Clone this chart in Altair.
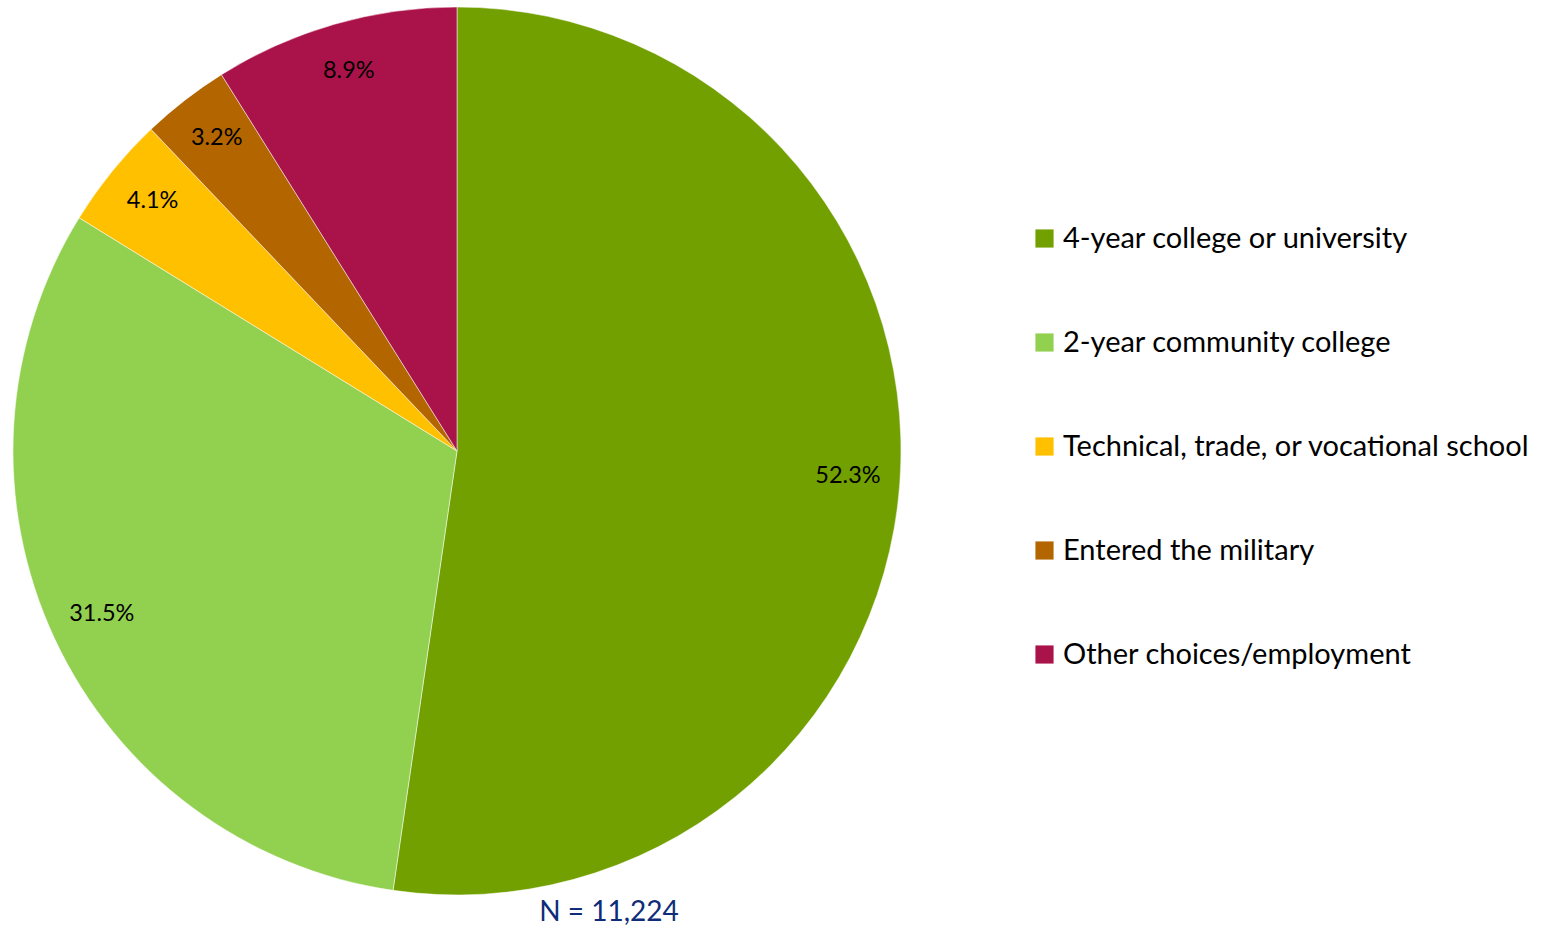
import altair as alt
import pandas as pd

categories = [
    "4-year college or university",
    "2-year community college",
    "Technical, trade, or vocational school",
    "Entered the military",
    "Other choices/employment",
]
values = [52.3, 31.5, 4.1, 3.2, 8.9]
labels = ["52.3%", "31.5%", "4.1%", "3.2%", "8.9%"]
colors = ["#71A000", "#92D050", "#FFC000", "#B36600", "#AA1349"]
note = "N = 11,224"

df = pd.DataFrame({
    "category": categories,
    "value": values,
    "label": labels,
    "order": list(range(len(categories))),
})

cx, cy = 457, 451

base = alt.Chart(df).encode(
    theta=alt.Theta("value:Q", stack=True),
    order=alt.Order("order:Q"),
)

arcs = base.mark_arc(outerRadius=444, stroke="#ffffff", strokeWidth=0.5).encode(
    color=alt.Color(
        "category:N",
        scale=alt.Scale(domain=categories, range=colors),
        sort=categories,
        legend=alt.Legend(
            title=None,
            orient="none",
            legendX=1030,
            legendY=224,
            symbolType="square",
            symbolSize=330,
            symbolStrokeWidth=0,
            labelFont="Lato",
            labelFontSize=29,
            labelColor="#000000",
            labelOffset=4,
            rowPadding=74,
            labelLimit=700,
        ),
    ),
    x=alt.value(cx),
    y=alt.value(cy),
)

text = base.mark_text(
    radius=392, font="Lato", fontSize=23.5, color="#000000", baseline="middle", align="center"
).encode(
    text="label:N",
    x=alt.value(cx),
    y=alt.value(cy - 3),
)

ndf = pd.DataFrame({"t": [note]})
ntext = alt.Chart(ndf).mark_text(
    font="Lato", fontSize=28, color="#0E2C78", baseline="middle", align="center"
).encode(text="t:N", x=alt.value(609), y=alt.value(913))

chart = alt.layer(arcs, text, ntext).properties(
    width=1554, height=927, autosize=alt.AutoSizeParams(type="none"), padding=0
).configure_view(stroke=None)

chart.save("out.html", embed_options={"renderer": "svg", "actions": False})
